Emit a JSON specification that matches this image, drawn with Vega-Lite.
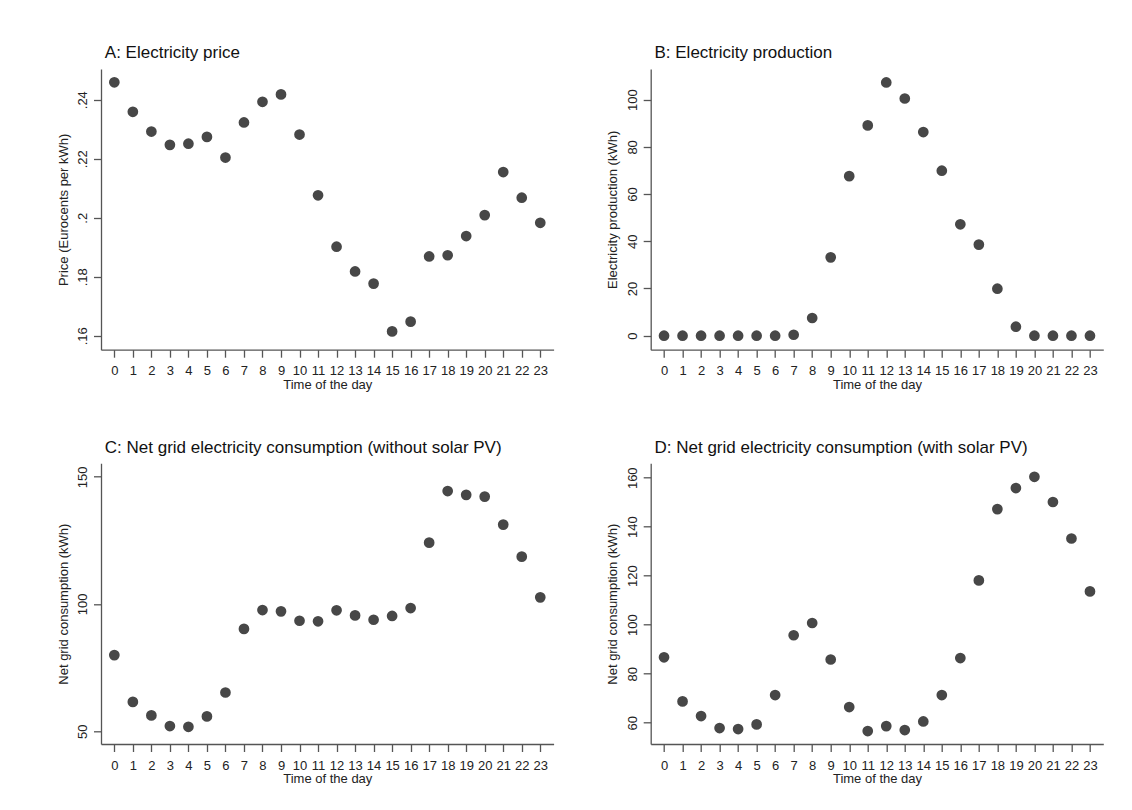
{
  "$schema": "https://vega.github.io/schema/vega-lite/v6.json",
  "background": "white",
  "padding": {"left": 57, "top": 44, "right": 10, "bottom": 10},
  "data": {"values": [
    {"hour": 0, "price": 0.2459, "prod": 0, "cons_no": 79.9, "cons_pv": 86.7},
    {"hour": 1, "price": 0.2359, "prod": 0, "cons_no": 61.5, "cons_pv": 68.7},
    {"hour": 2, "price": 0.2292, "prod": 0, "cons_no": 56.2, "cons_pv": 62.7},
    {"hour": 3, "price": 0.2247, "prod": 0, "cons_no": 52.0, "cons_pv": 57.8},
    {"hour": 4, "price": 0.2251, "prod": 0, "cons_no": 51.7, "cons_pv": 57.4},
    {"hour": 5, "price": 0.2274, "prod": 0, "cons_no": 55.8, "cons_pv": 59.3},
    {"hour": 6, "price": 0.2204, "prod": 0, "cons_no": 65.2, "cons_pv": 71.3},
    {"hour": 7, "price": 0.2323, "prod": 0.4, "cons_no": 90.2, "cons_pv": 95.7},
    {"hour": 8, "price": 0.2393, "prod": 7.5, "cons_no": 97.6, "cons_pv": 100.7},
    {"hour": 9, "price": 0.2418, "prod": 33.2, "cons_no": 97.1, "cons_pv": 85.8},
    {"hour": 10, "price": 0.2282, "prod": 67.6, "cons_no": 93.4, "cons_pv": 66.4},
    {"hour": 11, "price": 0.2076, "prod": 89.1, "cons_no": 93.2, "cons_pv": 56.6},
    {"hour": 12, "price": 0.1902, "prod": 107.3, "cons_no": 97.5, "cons_pv": 58.6},
    {"hour": 13, "price": 0.1818, "prod": 100.5, "cons_no": 95.5, "cons_pv": 57.0},
    {"hour": 14, "price": 0.1777, "prod": 86.3, "cons_no": 93.8, "cons_pv": 60.5},
    {"hour": 15, "price": 0.1615, "prod": 69.9, "cons_no": 95.3, "cons_pv": 71.3},
    {"hour": 16, "price": 0.1648, "prod": 47.2, "cons_no": 98.4, "cons_pv": 86.4},
    {"hour": 17, "price": 0.1869, "prod": 38.6, "cons_no": 124.1, "cons_pv": 118.1},
    {"hour": 18, "price": 0.1873, "prod": 19.9, "cons_no": 144.4, "cons_pv": 147.2},
    {"hour": 19, "price": 0.1938, "prod": 3.8, "cons_no": 142.9, "cons_pv": 155.8},
    {"hour": 20, "price": 0.2009, "prod": 0, "cons_no": 142.2, "cons_pv": 160.4},
    {"hour": 21, "price": 0.2155, "prod": 0, "cons_no": 131.2, "cons_pv": 150.1},
    {"hour": 22, "price": 0.2068, "prod": 0, "cons_no": 118.6, "cons_pv": 135.2},
    {"hour": 23, "price": 0.1983, "prod": 0, "cons_no": 102.6, "cons_pv": 113.6}
  ]},
  "columns": 2,
  "bounds": "flush",
  "spacing": {"row": 113.3, "column": 96.7},
  "concat": [
    {
      "width": 452.6, "height": 280.7,
      "title": {"text": "A: Electricity price"},
      "mark": {"type": "point", "filled": true, "size": 115, "color": "#474747", "opacity": 1},
      "encoding": {
        "x": {"field": "hour", "type": "quantitative", "scale": {"domain": [-0.72, 23.72], "nice": false, "zero": false},
              "axis": {"title": "Time of the day", "values": [0,1,2,3,4,5,6,7,8,9,10,11,12,13,14,15,16,17,18,19,20,21,22,23]}},
        "y": {"field": "price", "type": "quantitative", "scale": {"domain": [0.1553, 0.2504], "nice": false, "zero": false},
              "axis": {"title": "Price (Eurocents per kWh)", "values": [0.16, 0.18, 0.2, 0.22, 0.24], "labelExpr": "slice(format(datum.value, '.2~f'), 1)"}}
      }
    },
    {
      "width": 452.6, "height": 280.7,
      "title": {"text": "B: Electricity production"},
      "mark": {"type": "point", "filled": true, "size": 115, "color": "#474747", "opacity": 1},
      "encoding": {
        "x": {"field": "hour", "type": "quantitative", "scale": {"domain": [-0.72, 23.72], "nice": false, "zero": false},
              "axis": {"title": "Time of the day", "values": [0,1,2,3,4,5,6,7,8,9,10,11,12,13,14,15,16,17,18,19,20,21,22,23]}},
        "y": {"field": "prod", "type": "quantitative", "scale": {"domain": [-5.93, 113.0], "nice": false, "zero": false},
              "axis": {"title": "Electricity production (kWh)", "values": [0, 20, 40, 60, 80, 100]}}
      }
    },
    {
      "width": 452.6, "height": 280.7,
      "title": {"text": "C: Net grid electricity consumption (without solar PV)"},
      "mark": {"type": "point", "filled": true, "size": 115, "color": "#474747", "opacity": 1},
      "encoding": {
        "x": {"field": "hour", "type": "quantitative", "scale": {"domain": [-0.72, 23.72], "nice": false, "zero": false},
              "axis": {"title": "Time of the day", "values": [0,1,2,3,4,5,6,7,8,9,10,11,12,13,14,15,16,17,18,19,20,21,22,23]}},
        "y": {"field": "cons_no", "type": "quantitative", "scale": {"domain": [44.95, 155.3], "nice": false, "zero": false},
              "axis": {"title": "Net grid consumption (kWh)", "values": [50, 100, 150]}}
      }
    },
    {
      "width": 452.6, "height": 280.7,
      "title": {"text": "D: Net grid electricity consumption (with solar PV)"},
      "mark": {"type": "point", "filled": true, "size": 115, "color": "#474747", "opacity": 1},
      "encoding": {
        "x": {"field": "hour", "type": "quantitative", "scale": {"domain": [-0.72, 23.72], "nice": false, "zero": false},
              "axis": {"title": "Time of the day", "values": [0,1,2,3,4,5,6,7,8,9,10,11,12,13,14,15,16,17,18,19,20,21,22,23]}},
        "y": {"field": "cons_pv", "type": "quantitative", "scale": {"domain": [51.3, 165.9], "nice": false, "zero": false},
              "axis": {"title": "Net grid consumption (kWh)", "values": [60, 80, 100, 120, 140, 160]}}
      }
    }
  ],
  "config": {
    "view": {"stroke": null},
    "font": "Liberation Sans",
    "axis": {
      "grid": false,
      "domainColor": "#555555", "domainWidth": 1.3,
      "tickColor": "#555555", "tickWidth": 1.3, "tickSize": 7.5,
      "labelFont": "Liberation Sans", "labelFontSize": 13, "labelColor": "#222222",
      "titleFont": "Liberation Sans", "titleFontSize": 13, "titleFontWeight": "normal", "titleColor": "#222222",
      "labelOverlap": false, "labelFlush": false
    },
    "axisX": {"labelAngle": 0, "labelBaseline": "alphabetic", "labelPadding": 17.5, "titleY": 38.5, "titleBaseline": "alphabetic"},
    "axisY": {"labelAngle": 270, "labelAlign": "center", "labelBaseline": "alphabetic", "labelPadding": 7, "titleX": -34, "titleBaseline": "alphabetic", "titleAngle": 270},
    "title": {"fontSize": 17, "fontWeight": "normal", "anchor": "start", "frame": "group", "color": "#111111", "offset": 6.6, "baseline": "alphabetic", "dx": 3.8, "font": "Liberation Sans"}
  }
}
